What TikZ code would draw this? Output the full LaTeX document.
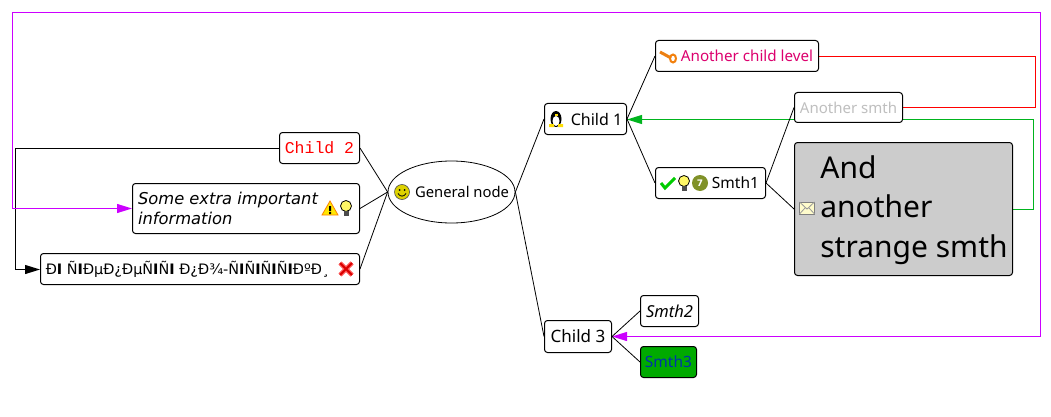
\documentclass[tikz,border=0pt]{standalone}
\usepackage{fontspec}
\usepackage{tikz}
\usetikzlibrary{arrows.meta,backgrounds,shapes.geometric}
\setmainfont{Noto Sans}
\newfontfamily\verd{DejaVu Sans}
\newfontfamily\cour{Liberation Mono}
\newcommand{\bx}{{\verd\bfseries I}}
\definecolor{linkpurple}{RGB}{204,0,255}
\definecolor{linkgreen}{RGB}{0,180,30}
\definecolor{textpink}{RGB}{220,0,110}
\definecolor{greybox}{RGB}{204,204,204}
\definecolor{greenbox}{RGB}{0,170,0}
\definecolor{badge}{RGB}{128,145,40}
\tikzset{
	box/.style={draw,fill=white,rounded corners=3pt,inner sep=0pt,line width=1pt},
	branch/.style={line width=.8pt},
	link/.style={line width=1pt},
	tip/.style={-{Triangle[length=15pt,width=9pt,line width=1pt]}},
	bulb/.pic={
		\fill[yellow!60!white,draw=black,line width=.8pt] (0,-2) circle (5.5);
		\fill[black!70] (-2.5,3) rectangle (2.5,8);
	},
	warn/.pic={
		\fill[yellow!90!orange,draw=orange,line width=.8pt] (-8,7) -- (0,-7) -- (8,7) -- cycle;
		\fill (-1,-2) rectangle (1,3) (-1,4) rectangle (1,6);
	},
	crossmark/.pic={
		\draw[red!65!white,line width=4.5pt] (-6,-6) -- (6,6) (-6,6) -- (6,-6);
		\draw[red!85!black,line width=2pt] (-6,-6) -- (6,6) (-6,6) -- (6,-6);
	},
	smile/.pic={
		\fill[yellow!70!olive,draw=black!70,line width=.6pt] (0,0) circle (7.5);
		\fill (-2.5,-2) circle (1) (2.5,-2) circle (1);
		\draw[line width=.8pt] (-4,1.5) .. controls (-2,5) and (2,5) .. (4,1.5);
	},
	penguin/.pic={
		\fill[black] (0,0) ellipse (5.5 and 8);
		\fill[white] (0,2) ellipse (3.5 and 5);
		\fill[yellow!80!orange] (-7,8) rectangle (-2,5) (2,5) rectangle (7,8);
		\fill[yellow!80!orange] (-1.5,-4.5) rectangle (1.5,-3);
	},
	keyicon/.pic={
		\draw[orange!70!brown,line width=3pt] (-8,-4) -- (3,2);
		\draw[orange!80!brown,line width=2pt] (5,2.5) ellipse (3 and 4);
	},
	checkmark/.pic={
		\draw[green!80!black,line width=3pt] (-7,0) -- (-3,5) -- (7,-5);
	},
	mail/.pic={
		\fill[yellow!20!white,draw=black!50,line width=1pt] (-7.5,-6) rectangle (7.5,6);
		\draw[black!40,line width=.8pt] (-7.5,-6) -- (0,1) -- (7.5,-6) (-7.5,6) -- (-2,0) (7.5,6) -- (2,0);
	}
}
\begin{document}
\begin{tikzpicture}[x=1pt,y=-1pt]
	\useasboundingbox (0,0) rectangle (1051,417);
	
	\node[draw,ellipse,fill=white,inner sep=0pt,line width=.8pt,minimum width=127pt,minimum height=62pt,font=\fontsize{14.8}{17}\selectfont] (general) at (451.5,192) {\makebox[0pt]{\hspace*{21pt}General node}};
	
	\node[box,minimum width=80pt,minimum height=31pt,text=red,font=\cour\fontsize{16.5}{19}\selectfont] (child2) at (319.5,148) {Child 2};
	\node[box,minimum width=227pt,minimum height=50pt,align=left,font=\verd\itshape\fontsize{16.3}{19.5}\selectfont] (extra) at (246,208.5) {Some extra important\hspace*{36pt}\\information\hspace*{36pt}};
	\node[box,minimum width=319pt,minimum height=31pt,font=\verd\fontsize{14.4}{17}\selectfont] (garbled) at (200,269) {Ð\bx{} Ñ\bx{}ÐµÐ¿ÐµÑ\bx{}Ñ\bx{} Ð¿Ð¾-Ñ\bx{}Ñ\bx{}Ñ\bx{}Ñ\bx{}ÐºÐ¸\hspace*{25pt}};
	
	\node[box,minimum width=82pt,minimum height=31pt,font=\fontsize{16}{19}\selectfont] (child1) at (585.5,119) {\hspace*{22pt}Child 1};
	\node[box,minimum width=163pt,minimum height=31pt,text=textpink,font=\fontsize{15.2}{17}\selectfont] (childlevel) at (737,56) {\hspace*{20pt}Another child level};
	\node[box,minimum width=110pt,minimum height=31pt,font=\fontsize{15.5}{17}\selectfont] (smth1) at (710.5,183) {\hspace*{50pt}Smth1};
	\node[box,minimum width=108pt,minimum height=30pt,text=black!25,font=\fontsize{15}{17}\selectfont] (anothersmth) at (848.5,107.5) {Another smth};
	\node[box,fill=greybox,minimum width=218pt,minimum height=133pt,align=left,font=\fontsize{30}{39.5}\selectfont] (strange) at (903.5,209) {\hspace*{21pt}\rule{0pt}{25pt}And\\\hspace*{21pt}another\\\hspace*{21pt}strange smth};
	
	\node[box,minimum width=67pt,minimum height=32pt,font=\fontsize{17}{19}\selectfont] (child3) at (578,336.5) {Child 3};
	\node[box,minimum width=58pt,minimum height=31pt,font=\itshape\fontsize{16.5}{17}\selectfont] (smth2) at (669.5,311) {Smth2};
	\node[box,fill=greenbox,minimum width=56pt,minimum height=31pt,text={rgb,255:red,0;green,50;blue,170},font=\fontsize{15.5}{17}\selectfont] (smth3) at (668.5,362) {Smth3};
	
	\pic at (402,192) {smile};
	\pic at (330,208) {warn};
	\pic at (346,208) {bulb};
	\pic at (346,269) {crossmark};
	\pic at (556,119) {penguin};
	\pic at (668,56) {keyicon};
	\pic at (668,183) {checkmark};
	\pic at (684,183) {bulb};
	\node[circle,fill=badge,minimum size=16pt,inner sep=0pt,text=white,font=\verd\bfseries\fontsize{9}{9}\selectfont] (seven) at (700,183) {7};
	\pic at (807,208) {mail};
	
	\begin{scope}[on background layer]
		\coordinate (greenright) at (1033.5,119.5);
		\coordinate (redright) at (1035.5,56.5);
		\coordinate (leftturn) at (15.5,148.5);
		\coordinate (purplecorner) at (12.5,12.5);
		\coordinate (purpleright) at (1040.5,12.5);
		
		\draw[link,linkgreen,tip] ([yshift=-.5pt]strange.east) -| (greenright) -- (child1.east |- greenright);
		\draw[link,red] (anothersmth.east) -| (redright) -- ([yshift=-.5pt]childlevel.east);
		\draw[link,black,tip] ([yshift=-.5pt]child2.west) -- (leftturn) |- ([yshift=-.5pt]garbled.west);
		\draw[link,linkpurple,tip] (purplecorner) -- (purpleright) |- (child3.east);
		\draw[link,linkpurple,tip] (purplecorner) |- (extra.west);
		
		\draw[branch] (general.west) -- (child2.east);
		\draw[branch] (general.west) -- (extra.east);
		\draw[branch] (general.west) -- (garbled.east);
		\draw[branch] (general.east) -- (child1.west);
		\draw[branch] (general.east) -- (child3.west);
		\draw[branch] (child1.east) -- (childlevel.west);
		\draw[branch] (child1.east) -- (smth1.west);
		\draw[branch] (smth1.east) -- (anothersmth.west);
		\draw[branch] (smth1.east) -- (strange.west);
		\draw[branch] (child3.east) -- (smth2.west);
		\draw[branch] (child3.east) -- (smth3.west);
	\end{scope}
\end{tikzpicture}
\end{document}
